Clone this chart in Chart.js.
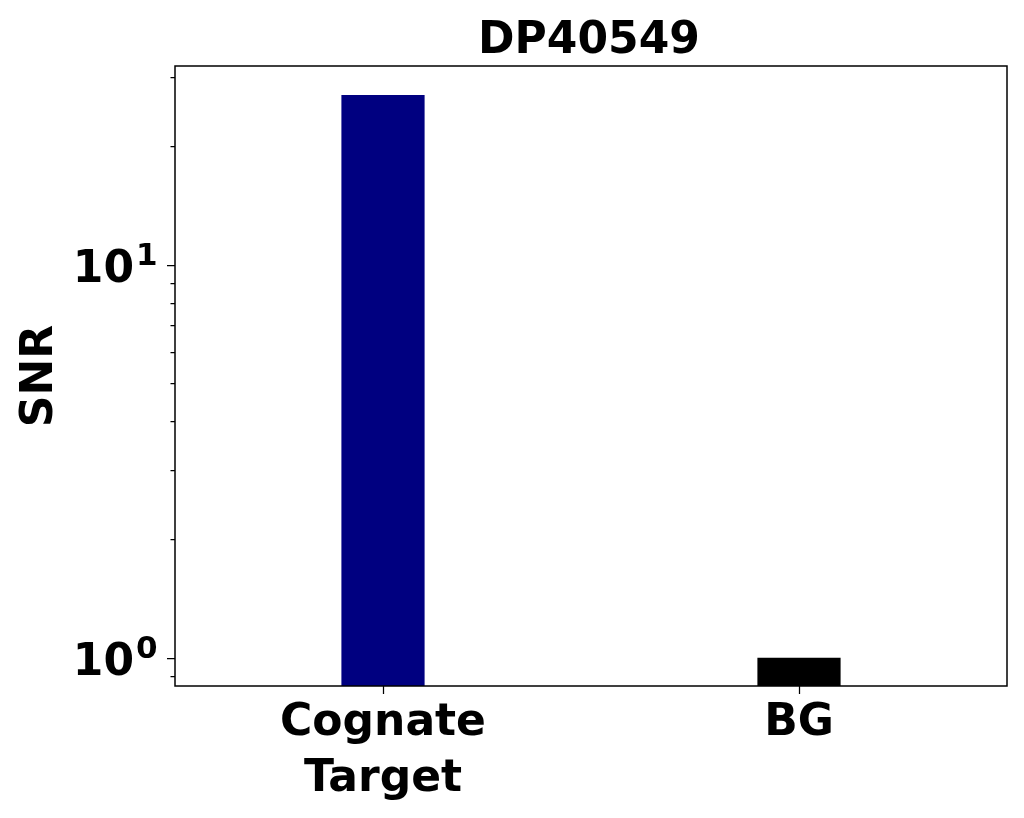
<!DOCTYPE html>
<html>
<head>
<meta charset="utf-8">
<script src="https://cdn.jsdelivr.net/npm/chart.js@4"></script>
<style>
  body { margin: 0; background: #fff; }
  #wrap { width: 1024px; height: 818px; }
</style>
</head>
<body>
<div id="wrap"><canvas id="chart"></canvas></div>
<script>
  // Data
  const chartTitle = 'DP40549';
  const categories = [['Cognate', 'Target'], 'BG'];
  const snrValues = [27.0, 1.0];
  const barColors = ['#000080', '#000000'];

  // Log axis ticks: 10^0 and 10^1 labelled, the rest minor
  const yMajorTicks = [1, 10];
  const yMajorExponents = ['0', '1'];
  const yMinorTicks = [0.9, 2, 3, 4, 5, 6, 7, 8, 9, 20, 30];
  const yMin = 0.847;
  const yMax = 32.0;

  const FONT = 'DejaVu Sans';

  // plot frame, tick marks, title and the 10^n labels (superscript done by hand)
  const frameAndTicks = {
    id: 'frameAndTicks',
    afterDraw(chart) {
      const ctx = chart.ctx;
      const area = chart.chartArea;
      const x = chart.scales.x;
      const y = chart.scales.y;
      ctx.save();
      ctx.strokeStyle = '#000';
      ctx.lineWidth = 1.25;
      ctx.beginPath();
      yMajorTicks.forEach(v => {
        const py = Math.round(y.getPixelForValue(v)) + 0.5;
        ctx.moveTo(area.left - 8, py);
        ctx.lineTo(area.left, py);
      });
      yMinorTicks.forEach(v => {
        const py = Math.round(y.getPixelForValue(v)) + 0.5;
        ctx.moveTo(area.left - 4.5, py);
        ctx.lineTo(area.left, py);
      });
      categories.forEach((c, i) => {
        const px = Math.round(x.getPixelForTick(i)) + 0.5;
        ctx.moveTo(px, area.bottom);
        ctx.lineTo(px, area.bottom + 8);
      });
      ctx.stroke();
      ctx.lineWidth = 1.5;
      ctx.strokeRect(area.left, area.top, area.right - area.left, area.bottom - area.top);

      // y labels
      ctx.fillStyle = '#000';
      ctx.textBaseline = 'alphabetic';
      yMajorTicks.forEach((v, i) => {
        const py = y.getPixelForValue(v);
        ctx.font = 'bold 44px "' + FONT + '"';
        ctx.textAlign = 'right';
        ctx.fillText('10', area.left - 41, py + 17);
        ctx.font = 'bold 31px "' + FONT + '"';
        ctx.textAlign = 'left';
        ctx.fillText(yMajorExponents[i], area.left - 39, py + 0);
      });

      // title centred over the plot
      ctx.font = 'bold 44px "' + FONT + '"';
      ctx.textAlign = 'center';
      ctx.fillText(chartTitle, (area.left + area.right) / 2 - 2, 53);
      ctx.restore();
    }
  };

  new Chart(document.getElementById('chart'), {
    type: 'bar',
    data: {
      labels: categories,
      datasets: [{
        data: snrValues,
        backgroundColor: barColors,
        borderWidth: 0,
        barPercentage: 0.2,
        categoryPercentage: 1.0
      }]
    },
    options: {
      responsive: true,
      maintainAspectRatio: false,
      animation: false,
      layout: { padding: { left: 0, right: 17, top: 66, bottom: 0 } },
      plugins: {
        legend: { display: false },
        tooltip: { enabled: false },
        title: { display: false }
      },
      scales: {
        x: {
          grid: { display: false, drawTicks: true, tickLength: 8 },
          border: { display: false },
          ticks: {
            color: '#000',
            padding: 2,
            maxRotation: 0,
            font: { family: FONT, size: 44, weight: 'bold', lineHeight: 1.273 }
          },
          afterFit(scale) { scale.height = 132; }
        },
        y: {
          type: 'logarithmic',
          min: yMin,
          max: yMax,
          grid: { display: false, drawTicks: true, tickLength: 8 },
          border: { display: false },
          afterBuildTicks(scale) {
            scale.ticks = yMajorTicks.concat(yMinorTicks)
              .sort((a, b) => a - b)
              .map(v => ({ value: v, major: yMajorTicks.includes(v) }));
          },
          ticks: {
            autoSkip: false,
            display: false
          },
          title: {
            display: true,
            text: 'SNR',
            color: '#000',
            font: { family: FONT, size: 44, weight: 'bold', lineHeight: 1.2 },
            padding: { top: 14, bottom: 0 }
          },
          afterFit(scale) { scale.width = 175; }
        }
      }
    },
    plugins: [frameAndTicks]
  });
</script>
</body>
</html>
